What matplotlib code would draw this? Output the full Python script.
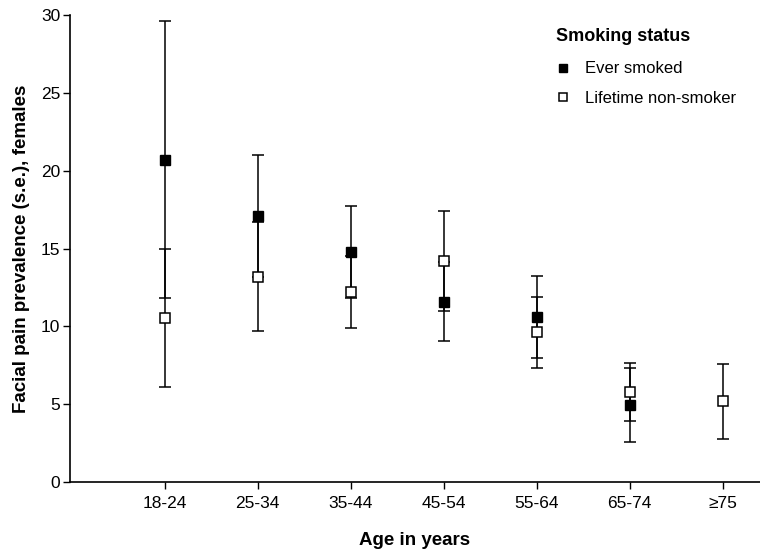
import matplotlib.pyplot as plt
import numpy as np

plt.rcParams['font.family'] = ['Liberation Sans', 'DejaVu Sans']

ages = ['18-24', '25-34', '35-44', '45-54', '55-64', '65-74', '≥75']

# ever smoked (no value for >=75)
smoked = [20.7, 17.1, 14.8, 11.6, 10.6, 4.95]
smoked_se = [8.9, 3.9, 2.95, 2.55, 2.65, 2.4]

# lifetime non-smoker
never = [10.55, 13.2, 12.2, 14.2, 9.63, 5.78, 5.18]
never_se = [4.45, 3.5, 2.3, 3.2, 2.27, 1.86, 2.39]

fig = plt.figure(figsize=(7.6, 5.58), dpi=100)
ax = fig.add_axes([0.092, 0.136, 0.908, 0.837])

x = np.arange(1, len(ages) + 1)

ax.errorbar(x[:len(smoked)], smoked, yerr=smoked_se, fmt='s', color='black',
            mfc='black', mec='black', ms=7, capsize=4, elinewidth=1.1,
            capthick=1.1, label='Ever smoked', zorder=3)
ax.errorbar(x, never, yerr=never_se, fmt='s', color='black',
            mfc='white', mec='black', ms=7, mew=1.1, capsize=4,
            elinewidth=1.1, capthick=1.1, label='Lifetime non-smoker', zorder=4)

ax.set_xlim(-0.02, 7.4)
ax.set_ylim(0, 30)
ax.set_xticks(x)
ax.set_xticklabels(ages)
ax.set_yticks(np.arange(0, 31, 5))
ax.tick_params(labelsize=12.5, length=5, width=1, pad=2)
ax.tick_params(axis='x', pad=5)

for s in ['top', 'right']:
    ax.spines[s].set_visible(False)
for s in ['left', 'bottom']:
    ax.spines[s].set_linewidth(1.2)

ax.set_ylabel('Facial pain prevalence (s.e.), females', fontsize=13.5,
              fontweight='bold', labelpad=8)
ax.set_xlabel('Age in years', fontsize=13.5, fontweight='bold', labelpad=15)

h, l = ax.get_legend_handles_labels()
h = [hh[0] for hh in h]
leg = ax.legend(h, l, title='Smoking status', frameon=False, loc='upper left',
                bbox_to_anchor=(0.683, 1.005), fontsize=12, markerscale=0.75,
                handlelength=0.8, handletextpad=0.9, labelspacing=0.85,
                alignment='left')
leg.get_title().set_fontweight('bold')
leg.get_title().set_fontsize(13)
leg._legend_box.sep = 12

fig.savefig('out.png', dpi=100)
